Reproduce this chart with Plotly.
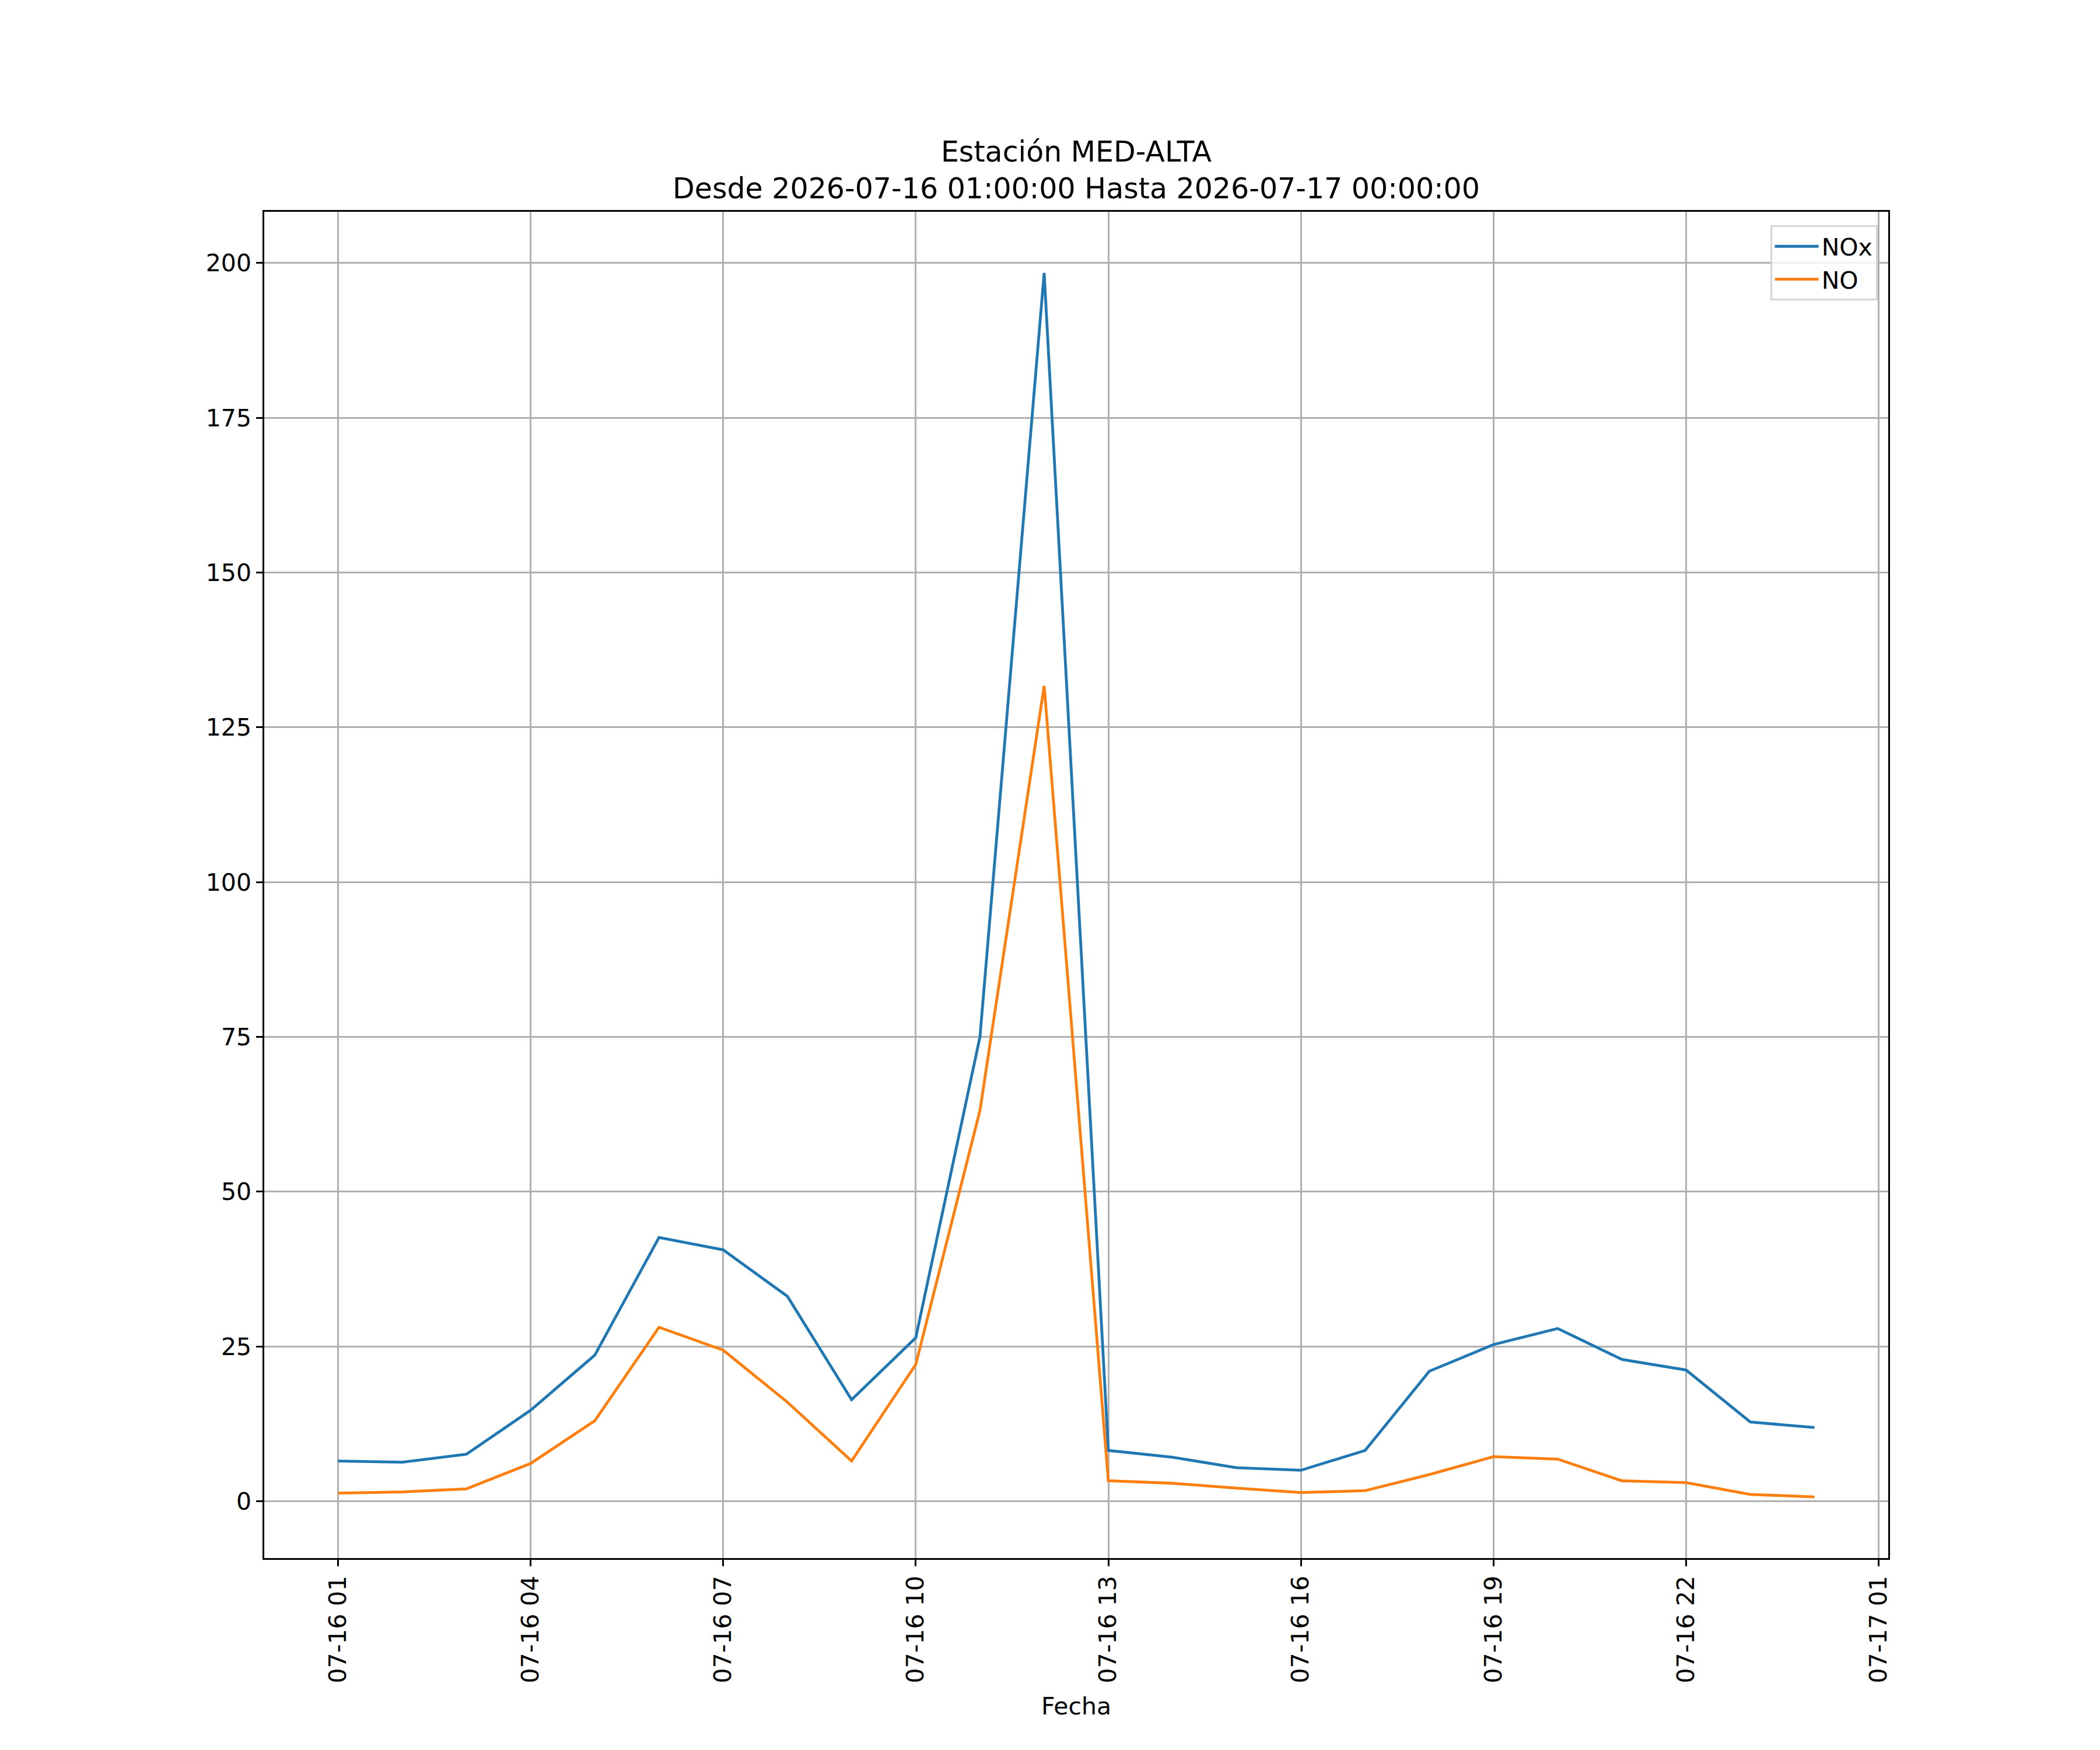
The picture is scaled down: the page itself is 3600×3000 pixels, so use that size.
import pandas as pd
import plotly.graph_objects as go

# hourly readings, station MED-ALTA
fechas = pd.date_range('2026-07-16 01:00', '2026-07-17 00:00', freq='h')
nox = [6.5, 6.3, 7.6, 14.7, 23.6, 42.6, 40.6, 33.1, 16.4, 26.4, 75.0, 198.4,
       8.2, 7.1, 5.4, 5.0, 8.2, 21.0, 25.3, 27.9, 22.9, 21.2, 12.8, 11.9]
no = [1.3, 1.5, 2.0, 6.1, 13.0, 28.1, 24.4, 16.0, 6.5, 22.1, 63.1, 131.7,
      3.3, 2.9, 2.1, 1.4, 1.7, 4.3, 7.2, 6.8, 3.3, 3.0, 1.1, 0.7]

font = dict(family='DejaVu Sans', size=41, color='black')
lw = 4.8

fig = go.Figure()
fig.add_trace(go.Scatter(x=fechas, y=nox, mode='lines', name='NOx',
                         line=dict(color='#1f77b4', width=lw)))
fig.add_trace(go.Scatter(x=fechas, y=no, mode='lines', name='NO',
                         line=dict(color='#ff7f0e', width=lw)))

# matplotlib-like 5% margins
span = fechas[-1] - fechas[0]
x0 = fechas[0] - span * 0.05
x1 = fechas[-1] + span * 0.05
ymin, ymax = min(no), max(nox)
yspan = ymax - ymin
y0 = ymin - yspan * 0.05
y1 = ymax + yspan * 0.05

axis_common = dict(
    showline=True, linecolor='black', linewidth=2.5, mirror=True,
    showgrid=True, gridcolor='#b0b0b0', gridwidth=2.5,
    ticks='outside', ticklen=11, tickwidth=2.5, tickcolor='black',
    zeroline=False, tickfont=font,
)

fig.update_layout(
    width=3600, height=3000,
    paper_bgcolor='white', plot_bgcolor='white',
    font=font,
    margin=dict(l=445, r=371, t=355, b=337),
    title=dict(text='Estación MED-ALTA<br>Desde 2026-07-16 01:00:00 Hasta 2026-07-17 00:00:00',
               xref='paper', x=0.5, xanchor='center', y=0.9105, yanchor='middle',
               font=dict(family='DejaVu Sans', size=49, color='black')),
    xaxis=dict(range=[x0, x1], tick0='2026-07-16 01:00', dtick=3 * 3600 * 1000,
               tickformat='%m-%d %H', tickangle=-90,
               title=dict(text='Fecha', font=font, standoff=26),
               **axis_common),
    yaxis=dict(range=[y0, y1], tickvals=[0, 25, 50, 75, 100, 125, 150, 175, 200],
               **axis_common),
    legend=dict(x=0.9934, y=0.99, xanchor='right', yanchor='top', itemwidth=75,
                bgcolor='rgba(255,255,255,0.8)', bordercolor='#d5d5d5', borderwidth=3,
                font=font),
    showlegend=True,
)

fig.write_html('out.html')
